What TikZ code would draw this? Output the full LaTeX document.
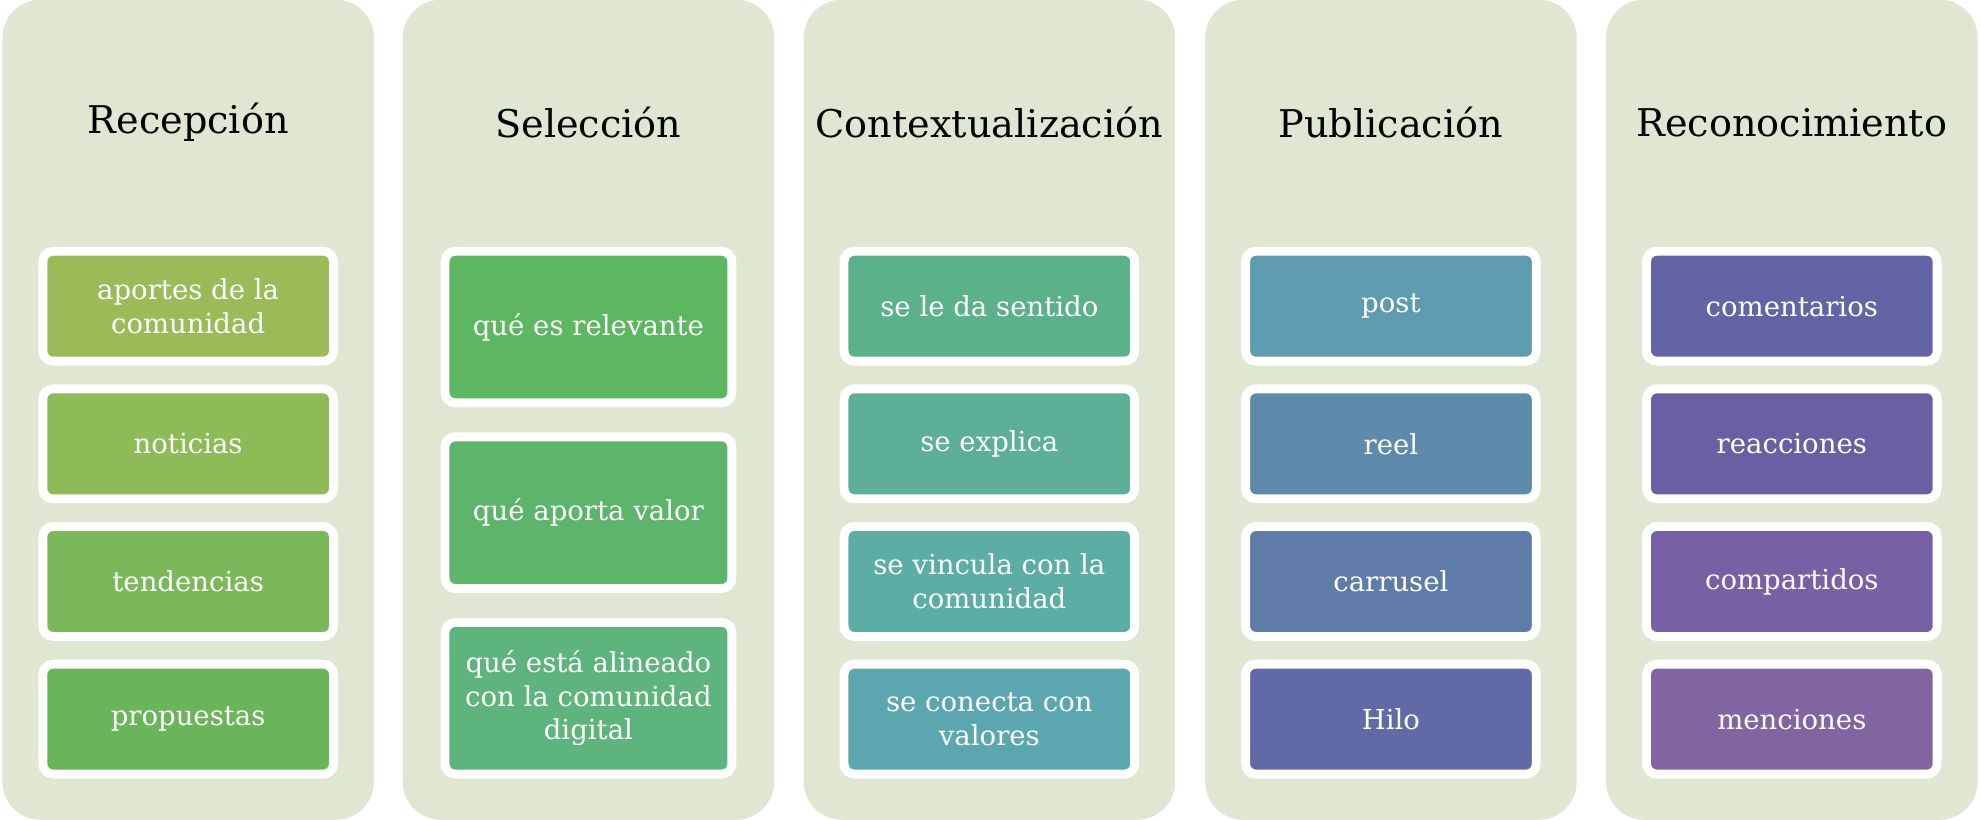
\documentclass[tikz,border=0pt]{standalone}
\usepackage{fontspec}
\setmainfont{DejaVu Serif}
\begin{document}
\begin{tikzpicture}[x=0.01cm,y=-0.01cm,
 col/.style={fill=colbg,rounded corners=0.3cm,minimum width=2.94cm,minimum height=6.49cm,inner sep=0,outer sep=0},
 ttl/.style={font=\fontsize{8.6}{10}\selectfont,text=black},
 bx/.style={draw=white,line width=0.07cm,rounded corners=0.08cm,minimum width=2.3cm,minimum height=0.87cm,inner sep=0,outer sep=0,align=center,text=white,font=\fontsize{6.2}{7.6}\selectfont},
 bb/.style={bx,minimum width=2.27cm,minimum height=1.2cm}]
\definecolor{colbg}{HTML}{DFE7D3}
\definecolor{a1}{HTML}{9BBB59}\definecolor{a2}{HTML}{8CBB58}\definecolor{a3}{HTML}{7BB85A}\definecolor{a4}{HTML}{6AB55A}
\definecolor{b1}{HTML}{5DB660}\definecolor{b2}{HTML}{5DB56C}\definecolor{b3}{HTML}{5DB47D}
\definecolor{c1}{HTML}{5BB28A}\definecolor{c2}{HTML}{5DAF98}\definecolor{c3}{HTML}{5CADA4}\definecolor{c4}{HTML}{5CA6B0}
\definecolor{d1}{HTML}{5E9BAE}\definecolor{d2}{HTML}{5E8BAB}\definecolor{d3}{HTML}{5F7BA8}\definecolor{d4}{HTML}{616AA6}
\definecolor{e1}{HTML}{6264A6}\definecolor{e2}{HTML}{6B5FA4}\definecolor{e3}{HTML}{7760A3}\definecolor{e4}{HTML}{8364A3}
\useasboundingbox (0,0) rectangle (1568,649);
\node[col] (k1) at (149,324.5) {};
\node[col] (k2) at (466,324.5) {};
\node[col] (k3) at (783.5,324.5) {};
\node[col] (k4) at (1101.5,324.5) {};
\node[col] (k5) at (1419,324.5) {};
\node[ttl] (t1) at (149,97) {Recepción};
\node[ttl] (t2) at (466,97) {Selección};
\node[ttl] (t3) at (783.5,97) {Contextualización};
\node[ttl] (t4) at (1101.5,97) {Publicación};
\node[ttl] (t5) at (1419,97) {Reconocimiento};
\node[bx,fill=a1] (a1n) at (149,242.5) {aportes de la\\comunidad};
\node[bx,fill=a2] (a2n) at (149,351.5) {noticias};
\node[bx,fill=a3] (a3n) at (149,460.5) {tendencias};
\node[bx,fill=a4] (a4n) at (149,569.5) {propuestas};
\node[bb,fill=b1] (b1n) at (466,259) {qué es relevante};
\node[bb,fill=b2] (b2n) at (466,406) {qué aporta valor};
\node[bb,fill=b3] (b3n) at (466,553) {qué está alineado\\con la comunidad\\digital};
\node[bx,fill=c1] (c1n) at (783.5,242.5) {se le da sentido};
\node[bx,fill=c2] (c2n) at (783.5,351.5) {se explica};
\node[bx,fill=c3] (c3n) at (783.5,460.5) {se vincula con la\\comunidad};
\node[bx,fill=c4] (c4n) at (783.5,569.5) {se conecta con\\valores};
\node[bx,fill=d1] (d1n) at (1101.5,242.5) {post};
\node[bx,fill=d2] (d2n) at (1101.5,351.5) {reel};
\node[bx,fill=d3] (d3n) at (1101.5,460.5) {carrusel};
\node[bx,fill=d4] (d4n) at (1101.5,569.5) {Hilo};
\node[bx,fill=e1] (e1n) at (1419,242.5) {comentarios};
\node[bx,fill=e2] (e2n) at (1419,351.5) {reacciones};
\node[bx,fill=e3] (e3n) at (1419,460.5) {compartidos};
\node[bx,fill=e4] (e4n) at (1419,569.5) {menciones};
\end{tikzpicture}
\end{document}
